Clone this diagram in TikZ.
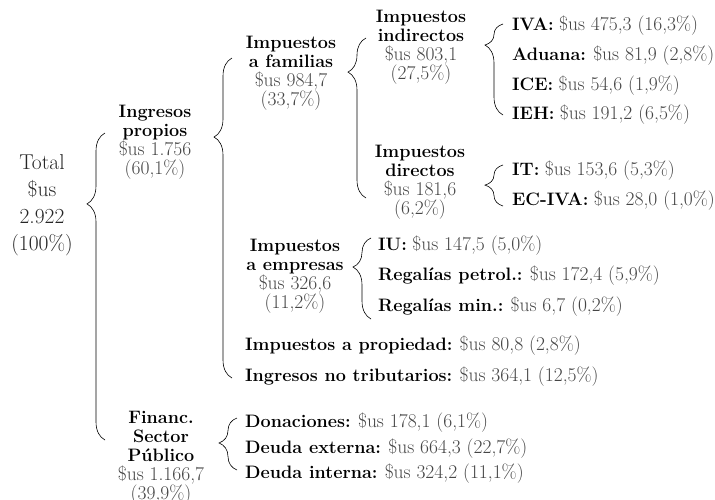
\documentclass[tikz,border=0pt]{standalone}
\usepackage{tikz}
\usetikzlibrary{decorations.pathreplacing}
\definecolor{numgray}{HTML}{454545}
\newcommand{\amt}[1]{{\fontsize{19.5}{19}\selectfont\color{numgray}#1}}

\begin{document}
\begin{tikzpicture}[x=1pt,y=-1pt,
  brc/.style={decorate,line width=0.6pt,decoration={brace,mirror,amplitude=18pt,aspect=#1}}]
  \tikzstyle{lbl}=[align=center,inner sep=0pt,font=\fontsize{18}{19}\selectfont]
  \tikzstyle{row}=[anchor=west,inner sep=0pt,font=\fontsize{18}{20}\selectfont]
  \tikzstyle{total}=[align=center,inner sep=0pt,text=black!85,font=\fontsize{21.5}{27}\selectfont]
  \useasboundingbox (0,0) rectangle (715,499);

  % main groups
  \node[total] (total) at (42,205) {Total\\\$us\\2.922\\(100\%)};
  \node[lbl] (propios) at (155,142) {\textbf{Ingresos}\\\textbf{propios}\\\amt{\$us 1.756}\\\amt{(60,1\%)}};
  \node[lbl] (financ) at (161,458) {\textbf{Financ.}\\\textbf{Sector}\\\textbf{Público}\\\amt{\$us 1.166,7}\\\amt{(39,9\%)}};

  % second level
  \node[lbl] (familias) at (291,73) {\textbf{Impuestos}\\\textbf{a familias}\\\amt{\$us 984,7}\\\amt{(33,7\%)}};
  \node[lbl] (empresas) at (295,276) {\textbf{Impuestos}\\\textbf{a empresas}\\\amt{\$us 326,6}\\\amt{(11,2\%)}};
  \node[lbl] (indirectos) at (421,47) {\textbf{Impuestos}\\\textbf{indirectos}\\\amt{\$us 803,1}\\\amt{(27,5\%)}};
  \node[lbl] (directos) at (420,182) {\textbf{Impuestos}\\\textbf{directos}\\\amt{\$us 181,6}\\\amt{(6,2\%)}};

  % rows
  \node[row] (iva) at (512,26) {\textbf{IVA:} \amt{\$us 475,3 (16,3\%)}};
  \node[row] (aduana) at (512,56) {\textbf{Aduana:} \amt{\$us 81,9 (2,8\%)}};
  \node[row] (ice) at (512,86) {\textbf{ICE:} \amt{\$us 54,6 (1,9\%)}};
  \node[row] (ieh) at (512,115) {\textbf{IEH:} \amt{\$us 191,2 (6,5\%)}};
  \node[row] (it) at (512,171) {\textbf{IT:} \amt{\$us 153,6 (5,3\%)}};
  \node[row] (eciva) at (512,201) {\textbf{EC-IVA:} \amt{\$us 28,0 (1,0\%)}};
  \node[row] (iu) at (378,246) {\textbf{IU:} \amt{\$us 147,5 (5,0\%)}};
  \node[row] (regpet) at (378,276) {\textbf{Regalías petrol.:} \amt{\$us 172,4 (5,9\%)}};
  \node[row] (regmin) at (378,307) {\textbf{Regalías min.:} \amt{\$us 6,7 (0,2\%)}};
  \node[row] (propiedad) at (245,346) {\textbf{Impuestos a propiedad:} \amt{\$us 80,8 (2,8\%)}};
  \node[row] (notrib) at (245,377) {\textbf{Ingresos no tributarios:} \amt{\$us 364,1 (12,5\%)}};
  \node[row] (donac) at (245,423) {\textbf{Donaciones:} \amt{\$us 178,1 (6,1\%)}};
  \node[row] (dext) at (245,449) {\textbf{Deuda externa:} \amt{\$us 664,3 (22,7\%)}};
  \node[row] (dint) at (245,474) {\textbf{Deuda interna:} \amt{\$us 324,2 (11,1\%)}};

  % braces
  \coordinate (a1) at (105,133); \coordinate (a2) at (105,440);
  \coordinate (b1) at (232,58);  \coordinate (b2) at (232,378);
  \coordinate (c1) at (366,38);  \coordinate (c2) at (366,198);
  \coordinate (d1) at (503,24);  \coordinate (d2) at (503,115);
  \coordinate (e1) at (503,165); \coordinate (e2) at (503,206);
  \coordinate (f1) at (371,238); \coordinate (f2) at (371,319);
  \coordinate (g1) at (237,418); \coordinate (g2) at (237,470);
  \draw[brc=0.231] (a1) -- (a2);
  \draw[brc=0.247] (b1) -- (b2);
  \draw[brc=0.213] (c1) -- (c2);
  \draw[brc=0.231] (d1) -- (d2);
  \draw[brc=0.49] (e1) -- (e2);
  \draw[brc=0.358] (f1) -- (f2);
  \draw[brc=0.48] (g1) -- (g2);
\end{tikzpicture}
\end{document}
